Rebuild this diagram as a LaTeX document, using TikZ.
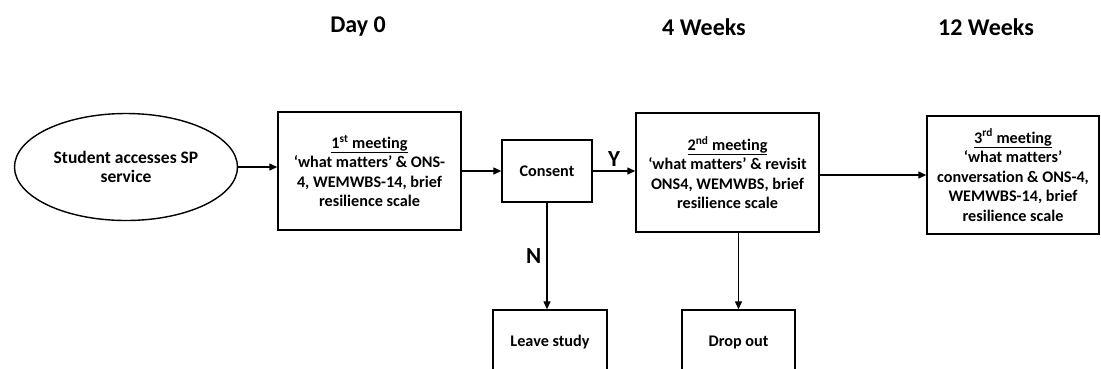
\documentclass[tikz,border=0pt]{standalone}
\usepackage{fontspec}
\setmainfont{Carlito}[Ligatures=NoCommon]
\usetikzlibrary{arrows.meta,shapes.geometric}
\tikzset{
  boxnode/.style={draw, line width=1.4pt, rectangle, align=center, inner sep=0pt, font=\fontsize{16.2}{19.5}\selectfont\bfseries},
  ellnode/.style={draw, line width=1.4pt, ellipse, inner sep=0pt, align=center, font=\fontsize{17.5}{19.5}\selectfont\bfseries},
  head/.style={font=\fontsize{24}{28}\selectfont\bfseries, inner sep=0pt},
  lab/.style={font=\fontsize{23}{26}\selectfont\bfseries, inner sep=0pt},
  arr/.style={line width=1.3pt, -{Triangle[length=8pt,width=7pt]}}
}
\begin{document}
\begin{tikzpicture}[x=1pt,y=-1pt]
\useasboundingbox (0,0) rectangle (1101,368);
\clip (0,0) rectangle (1101,368);
% headers
\node[head] (h0) at (358,27) {Day 0};
\node[head] (h4) at (704,27) {4 Weeks};
\node[head] (h12) at (986,27) {12 Weeks};
% nodes
\node[ellnode, minimum width=223pt, minimum height=107pt] (ell) at (126,167) {Student accesses SP\\service};
\node[boxnode, minimum width=183pt, minimum height=118pt] (box1) at (369.5,171) {\underline{1\textsuperscript{st} meeting}\\‘what matters’ \& ONS-\\4, WEMWBS-14, brief\\resilience scale};
\node[boxnode, minimum width=90pt, minimum height=62pt] (consent) at (547,171) {Consent};
\node[boxnode, minimum width=183pt, minimum height=119pt] (box2) at (727.5,172.5) {\underline{2\textsuperscript{nd} meeting}\\‘what matters’ \& revisit\\ONS4, WEMWBS, brief\\resilience scale};
\node[boxnode, minimum width=172pt, minimum height=118pt] (box3) at (1013,175) {\underline{3\textsuperscript{rd} meeting}\\‘what matters’\\conversation \& ONS-4,\\WEMWBS-14, brief\\resilience scale};
\node[boxnode, minimum width=114pt, minimum height=65pt] (leave) at (550,342.5) {Leave study};
\node[boxnode, minimum width=113pt, minimum height=65pt] (drop) at (738.5,342.5) {Drop out};
% connectors
\draw[arr] (ell.east) -- (ell.east -| box1.west);
\draw[arr] (box1.east |- consent) -- (consent.west);
\draw[arr] (consent.east) -- (consent.east -| box2.west) node[lab, midway, above=4pt] (ylab) {Y};
\draw[arr] (box2.east |- box3) -- (box3.west);
\draw[arr] (consent.south) -- (consent.south |- leave.north) node[lab, pos=0.5, left=5pt] (nlab) {N};
\draw[arr] (drop.north |- box2.south) -- (drop.north);
\end{tikzpicture}
\end{document}
